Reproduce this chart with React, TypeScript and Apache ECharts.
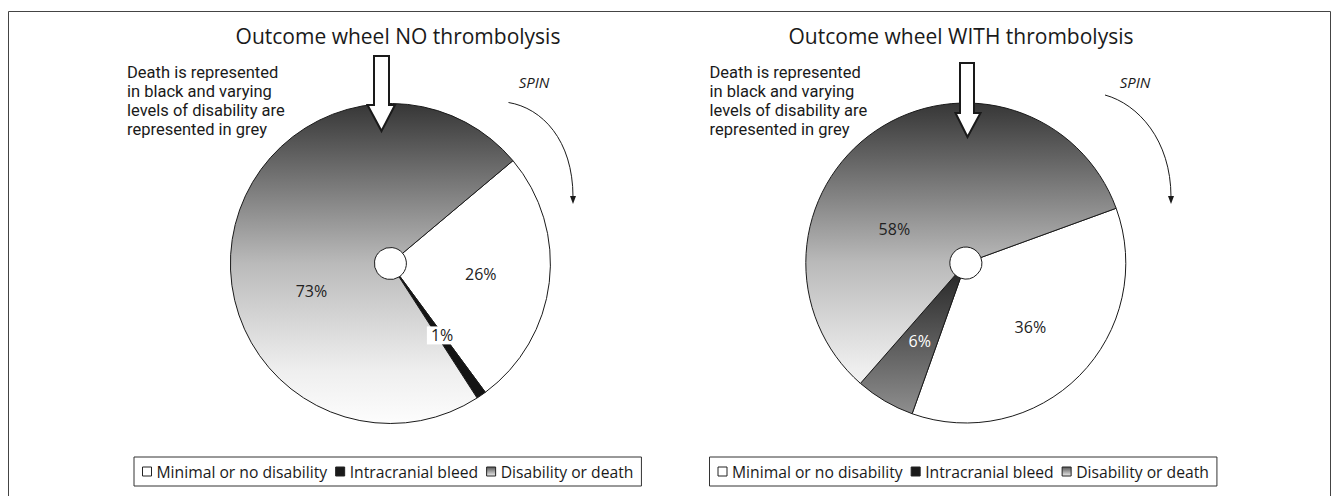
import React, { useEffect, useRef } from 'react';
import * as echarts from 'echarts';

// ---- data ----
const categories = ['Minimal or no disability', 'Intracranial bleed', 'Disability or death'];
const noThrombolysis = [26, 1, 73];
const withThrombolysis = [36, 6, 58];
const titles = ['Outcome wheel NO thrombolysis', 'Outcome wheel WITH thrombolysis'];
const noteLines = ['Death is represented', 'in black and varying', 'levels of disability are', 'represented in grey'];
const spinText = 'SPIN';

// ---- layout / style ----
const FONT = '"Open Sans", "Noto Sans", sans-serif';
const NOTE_FONT = 'Roboto, "Open Sans", sans-serif';
const R = 160;
const R0 = 16;
const INK = '#1a1a1a';

const panels = [
  {
    values: noThrombolysis, title: titles[0], cx: 390.4, cy: 263.5, start: 40,
    titleX: 398, noteX: 127, spinX: 534,
    arrow: { l: 374, r: 389, top: 56, headTop: 105, hl: 367.5, hr: 395, tipX: 381.5, tipY: 131 },
    curve: { x1: 508.5, y1: 102.5, cpx1: 542, cpy1: 108, cpx2: 573, cpy2: 140, x2: 573, y2: 197 },
    legendLeft: 134,
    shifts: [[0, 0], [0, -3], [11, 41]],
  },
  {
    values: withThrombolysis, title: titles[1], cx: 965.8, cy: 263, start: 20,
    titleX: 961, noteX: 709.5, spinX: 1135,
    arrow: { l: 960, r: 974, top: 63, headTop: 113, hl: 955.5, hr: 980.5, tipX: 967.5, tipY: 137 },
    curve: { x1: 1105, y1: 95, cpx1: 1138, cpy1: 104, cpx2: 1171, cpy2: 140, x2: 1171, y2: 197 },
    legendLeft: 709.5,
    shifts: [[0, 0], [0, 0], [-20, 41]],
  },
];

function discGradient(cy: number) {
  return new echarts.graphic.LinearGradient(0, cy - R, 0, cy + R, [
    { offset: 0, color: '#363636' },
    { offset: 0.5, color: '#bababa' },
    { offset: 0.83, color: '#eeeeee' },
    { offset: 1, color: '#fdfdfd' },
  ], true);
}

function bleedColor(i: number) {
  if (i === 0) return '#141414';
  return new echarts.graphic.LinearGradient(0, 0, 0, 1, [
    { offset: 0, color: '#2b2b2b' },
    { offset: 1, color: '#8e8e8e' },
  ]);
}

function buildOption() {
  const series = panels.map((p, pi) => ({
    type: 'pie',
    center: [p.cx, p.cy],
    radius: [R0, R],
    startAngle: p.start,
    clockwise: true,
    silent: true,
    z: 2,
    emphasis: { disabled: true },
    itemStyle: { borderColor: INK, borderWidth: 1 },
    labelLine: { show: false },
    label: {
      show: true,
      position: 'inside',
      formatter: '{c}%',
      fontFamily: FONT,
      fontSize: 16,
      color: '#222',
    },
    labelLayout: (params: any) => {
      const s = p.shifts[params.dataIndex] || [0, 0];
      return { dx: s[0], dy: s[1] };
    },
    data: p.values.map((v, i) => {
      const item: any = { name: categories[i], value: v };
      if (i === 0) item.itemStyle = { color: '#ffffff' };
      if (i === 1) {
        item.itemStyle = { color: bleedColor(pi) };
        if (pi === 0) {
          item.label = { backgroundColor: '#ffffff', padding: [1, 4], color: '#222' };
        } else {
          item.label = { color: '#ffffff' };
        }
      }
      if (i === 2) item.itemStyle = { color: discGradient(p.cy) };
      return item;
    }),
  }));

  const legendData = categories.map((c, i) => ({
    name: c,
    itemStyle: {
      color: i === 0 ? '#ffffff' : i === 1 ? '#1a1a1a' : new echarts.graphic.LinearGradient(0, 0, 0, 1, [
        { offset: 0, color: '#555' }, { offset: 1, color: '#eee' },
      ]),
      borderColor: '#222',
      borderWidth: 1,
    },
  }));

  const legend = panels.map((p) => ({
    left: p.legendLeft,
    top: 457,
    orient: 'horizontal',
    selectedMode: false,
    icon: 'rect',
    itemWidth: 9,
    itemHeight: 9,
    itemGap: 8,
    padding: [6, 8, 6, 8],
    backgroundColor: '#ffffff',
    borderColor: '#333',
    borderWidth: 1,
    textStyle: { fontFamily: FONT, fontSize: 15.7, color: INK, lineHeight: 17 },
    data: legendData,
  }));

  const graphic: any[] = [
    {
      type: 'rect', z: 0, silent: true,
      shape: { x: 8.5, y: 11.5, width: 1322, height: 600 },
      style: { fill: 'none', stroke: '#444', lineWidth: 1 },
    },
  ];

  panels.forEach((p) => {
    graphic.push({
      type: 'text', z: 10, x: p.titleX, y: 36, silent: true,
      style: { text: p.title, font: `21px ${FONT}`, fill: INK, align: 'center', verticalAlign: 'middle' },
    });
    noteLines.forEach((line, li) => {
      graphic.push({
        type: 'text', z: 10, x: p.noteX, y: 72 + li * 19, silent: true,
        style: { text: line, font: `16.5px ${NOTE_FONT}`, fill: INK, align: 'left', verticalAlign: 'middle' },
      });
    });
    graphic.push({
      type: 'text', z: 10, x: p.spinX, y: 82, silent: true,
      style: { text: spinText, font: `italic 15px ${FONT}`, fill: INK, align: 'center', verticalAlign: 'middle' },
    });
    const a = p.arrow;
    graphic.push({
      type: 'polygon', z: 10, silent: true,
      shape: {
        points: [
          [a.l, a.top], [a.r, a.top], [a.r, a.headTop], [a.hr, a.headTop],
          [a.tipX, a.tipY], [a.hl, a.headTop], [a.l, a.headTop],
        ],
      },
      style: { fill: '#ffffff', stroke: INK, lineWidth: 2, lineJoin: 'miter' },
    });
    const c = p.curve;
    graphic.push({
      type: 'bezierCurve', z: 10, silent: true,
      shape: c,
      style: { fill: 'none', stroke: INK, lineWidth: 1 },
    });
    graphic.push({
      type: 'polygon', z: 10, silent: true,
      shape: { points: [[c.x2 - 3, c.y2 - 1], [c.x2 + 3, c.y2 - 1], [c.x2, c.y2 + 7]] },
      style: { fill: INK, stroke: 'none' },
    });
  });

  return {
    animation: false,
    backgroundColor: '#ffffff',
    tooltip: { show: false },
    legend,
    series,
    graphic,
  };
}

export default function App() {
  const ref = useRef<HTMLDivElement>(null);
  useEffect(() => {
    if (!ref.current) return;
    const chart = echarts.init(ref.current, undefined, { renderer: 'svg' });
    chart.setOption(buildOption() as any);
    return () => chart.dispose();
  }, []);
  return (
    <div
      ref={ref}
      style={{ position: 'absolute', left: 0, top: 0, width: 1338, height: 496, background: '#fff' }}
    />
  );
}
